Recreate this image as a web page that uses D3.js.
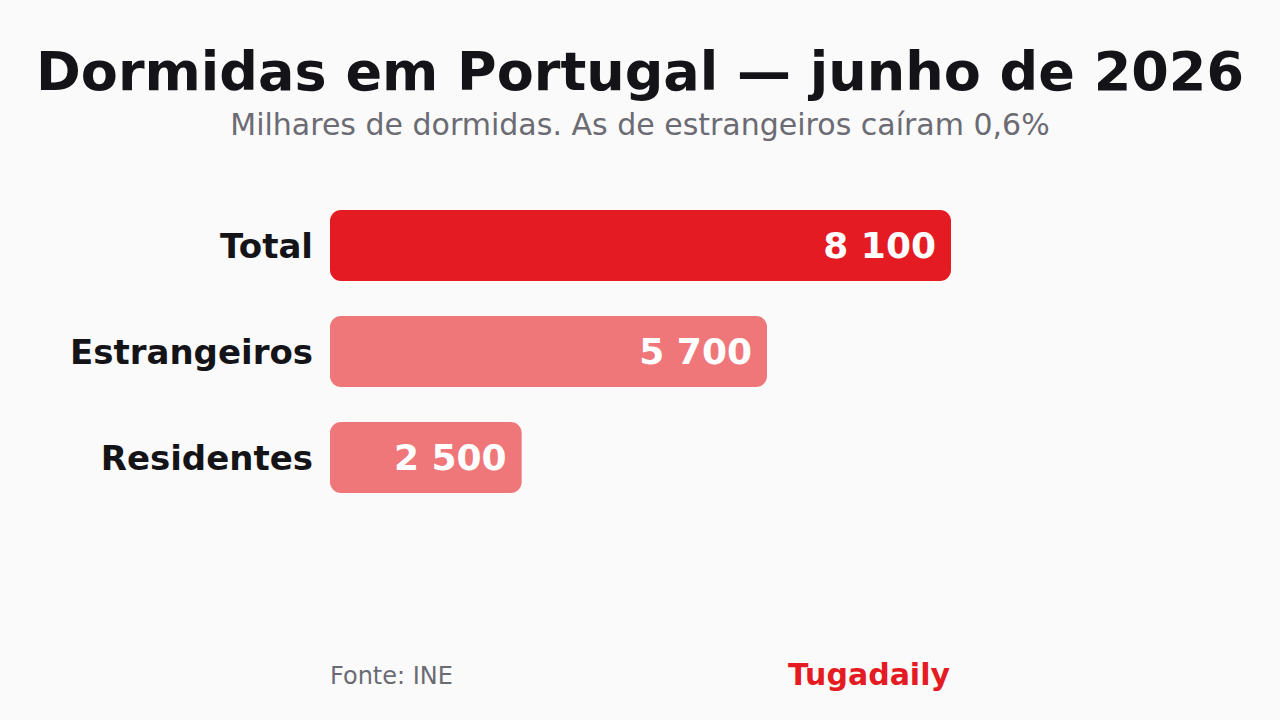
<!DOCTYPE html>
<html>
<head>
<meta charset="utf-8">
<script src="https://cdn.jsdelivr.net/npm/d3@7"></script>
<style>
  html, body { margin: 0; padding: 0; background: #fafafa; }
  svg { display: block; font-family: "DejaVu Sans", sans-serif; }
</style>
</head>
<body>
<script>
// Dados (milhares de dormidas)
var categories = ["Total", "Estrangeiros", "Residentes"];
var values = [8100, 5700, 2500];
var valueLabels = ["8 100", "5 700", "2 500"];

var svgWidth = 1280;
var svgHeight = 720;

var svg = d3.select("body").append("svg")
  .attr("width", svgWidth)
  .attr("height", svgHeight);

svg.append("rect")
  .attr("width", svgWidth)
  .attr("height", svgHeight)
  .attr("fill", "#fafafa");

// Title + subtitle
svg.append("text")
  .attr("x", 640)
  .attr("y", 90)
  .attr("text-anchor", "middle")
  .attr("font-size", 54)
  .attr("font-weight", "bold")
  .attr("fill", "#141418")
  .text("Dormidas em Portugal — junho de 2026");

svg.append("text")
  .attr("x", 640)
  .attr("y", 135)
  .attr("text-anchor", "middle")
  .attr("font-size", 30)
  .attr("fill", "#6b6b73")
  .text("Milhares de dormidas. As de estrangeiros caíram 0,6%");

// Scales
var x = d3.scaleLinear().domain([0, 8100]).range([330, 951]);
var y = d3.scaleBand().domain(categories).range([192, 511]).paddingInner(0.33).paddingOuter(0.17);

var rows = svg.selectAll("g.row")
  .data(categories)
  .enter()
  .append("g")
  .attr("class", "row");

rows.append("rect")
  .attr("x", x(0))
  .attr("y", d => y(d))
  .attr("width", (d, i) => x(values[i]) - x(0))
  .attr("height", y.bandwidth())
  .attr("rx", 11)
  .attr("fill", (d, i) => i === 0 ? "#e41b23" : "#ef777a");

rows.append("text")
  .attr("x", x(0) - 17)
  .attr("y", d => y(d) + y.bandwidth() / 2)
  .attr("dy", "0.36em")
  .attr("text-anchor", "end")
  .attr("font-size", 34)
  .attr("font-weight", "bold")
  .attr("fill", "#141418")
  .text(d => d);

rows.append("text")
  .attr("x", (d, i) => x(values[i]) - 15)
  .attr("y", d => y(d) + y.bandwidth() / 2)
  .attr("dy", "0.36em")
  .attr("text-anchor", "end")
  .attr("font-size", 36)
  .attr("font-weight", "bold")
  .attr("fill", "#ffffff")
  .text((d, i) => valueLabels[i]);

// Footer
svg.append("text")
  .attr("x", 330)
  .attr("y", 684)
  .attr("font-size", 24)
  .attr("fill", "#6b6b73")
  .text("Fonte: INE");

svg.append("text")
  .attr("x", 950)
  .attr("y", 685)
  .attr("text-anchor", "end")
  .attr("font-size", 30)
  .attr("font-weight", "bold")
  .attr("fill", "#e41b23")
  .text("Tugadaily");
</script>
</body>
</html>
